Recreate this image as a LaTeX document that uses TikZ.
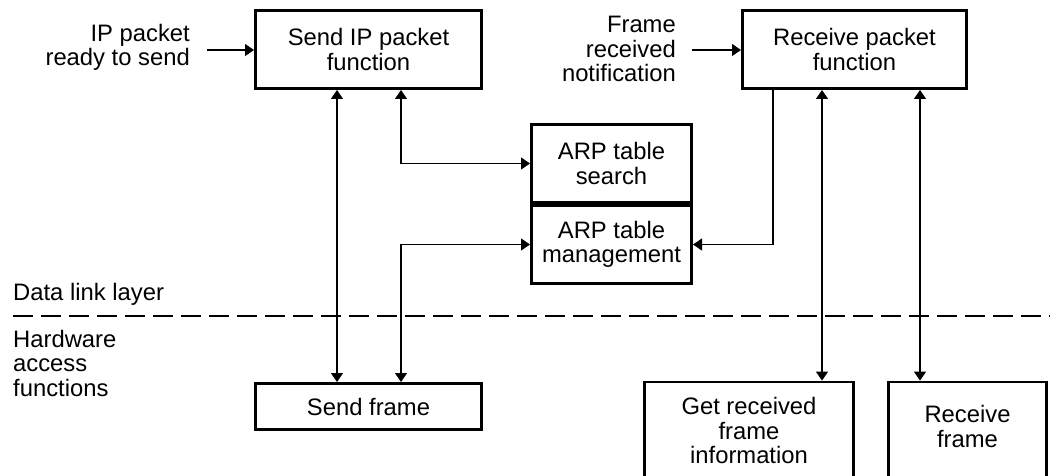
\documentclass[tikz,border=0pt]{standalone}
\usepackage{fontspec}
\setmainfont{Liberation Sans}
\usetikzlibrary{arrows.meta}
\begin{document}
\begin{tikzpicture}[x=1pt,y=-1pt,
  txtfont/.style={font=\fontsize{23.8}{24.5}\selectfont},
  box/.style={draw,line width=2.8pt,inner sep=0pt,align=center,txtfont},
  txt/.style={inner sep=0pt,txtfont},
  link/.style={line width=1.2pt},
  >={Triangle[length=9pt,width=12pt]}]
\useasboundingbox (0,0) rectangle (1050,476);
\clip (0,0) rectangle (1050,476);

% function blocks
\node[box,minimum width=226.2pt,minimum height=78.2pt] (sendip) at (368.5,49.5) {Send IP packet\\function};
\node[box,minimum width=224.2pt,minimum height=78.2pt] (recvpkt) at (854.5,49.5) {Receive packet\\function};
\node[box,minimum width=160.2pt,minimum height=78.2pt] (arps) at (611.5,163.5) {ARP table\\search};
\node[box,minimum width=160.2pt,minimum height=78.2pt] (arpm) at (611.5,244.5) {ARP table\\management};
\node[box,minimum width=226.2pt,minimum height=46.2pt] (sendframe) at (368.5,406.5) {Send frame};
\node[box,minimum width=209.2pt,minimum height=110pt] (getinfo) at (749,437) {};
\node[box,minimum width=158.2pt,minimum height=110pt] (recvframe) at (967.5,437) {};
\node[txt,align=center] (gtxt) at (749,430.5) {Get received\\frame\\information};
\node[txt,align=center] (rtxt) at (967.5,426.5) {Receive\\frame};

% outside labels
\node[txt,align=right,anchor=east] (ipin) at (190,47.5) {IP packet\\ready to send};
\node[txt,align=right,anchor=east] (frin) at (676,49.3) {Frame\\received\\notification};
\node[txt,anchor=base west] (dll) at (13,300) {Data link layer};
\node[txt,align=left,anchor=west] (hw) at (13,363) {Hardware\\access\\functions};

% layer boundary
\coordinate (dl1) at (13,316);
\coordinate (dl2) at (1050,316);
\draw[link,dash pattern=on 20pt off 8pt] (dl1) -- (dl2);

% inputs
\coordinate (ipsrc) at (207,50);
\coordinate (frsrc) at (692,50);
\draw[link,->] (ipsrc) -- (sendip.west |- ipsrc);
\draw[link,->] (frsrc) -- (recvpkt.west |- frsrc);

% vertical connector positions
\coordinate (xa) at (337,0);
\coordinate (xb) at (401,0);
\coordinate (xc) at (773,0);
\coordinate (xd) at (822,0);
\coordinate (xe) at (920,0);

\draw[link,<->] (sendip.south -| xa) -- (sendframe.north -| xa);
\draw[link,<->] (sendip.south -| xb) |- (arps.west);
\draw[link,<->] (sendframe.north -| xb) |- (arpm.west);
\draw[link,->] (recvpkt.south -| xc) |- (arpm.east);
\draw[link,<->] (recvpkt.south -| xd) -- (getinfo.north -| xd);
\draw[link,<->] (recvpkt.south -| xe) -- (recvframe.north -| xe);
\end{tikzpicture}
\end{document}
